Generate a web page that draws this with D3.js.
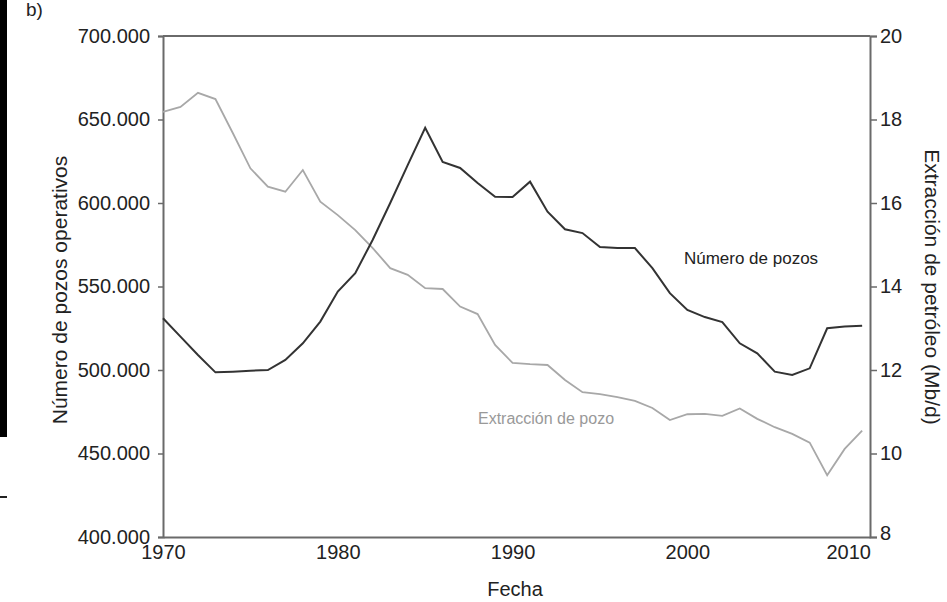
<!DOCTYPE html>
<html><head><meta charset="utf-8">
<script src="https://cdnjs.cloudflare.com/ajax/libs/d3/7.8.5/d3.min.js"></script>
<style>
html,body{margin:0;padding:0;background:#fff;}
svg{display:block;}
text{font-family:"Liberation Sans Narrow","Liberation Sans",Arial,sans-serif;}
</style></head>
<body>
<svg id="chart" width="947" height="602"></svg>
<script>
const years = d3.range(1970, 2011);
const pozos = [531000,520000,509000,498600,499000,499600,500000,506000,516000,529000,
  547000,558000,578000,600000,622700,645000,624600,621000,612000,603700,
  603600,612800,594800,584300,582000,573600,573000,573000,561000,546000,
  536000,531700,528700,516000,510000,499000,497000,501000,525000,526000,526500];
const extraccion = [18.18,18.30,18.64,18.49,17.67,16.83,16.39,16.27,16.79,16.03,
  15.71,15.35,14.92,14.44,14.28,13.96,13.94,13.52,13.34,12.60,
  12.17,12.14,12.12,11.76,11.47,11.42,11.35,11.26,11.09,10.80,
  10.94,10.95,10.90,11.08,10.83,10.63,10.47,10.26,9.48,10.11,10.55];
const leftTicks = [400000,450000,500000,550000,600000,650000,700000];
const rightTicks = [8,10,12,14,16,18,20];
const xTicks = [1970,1980,1990,2000,2010];

const svg = d3.select("#chart");
const L = 163, R = 870, T = 36, B = 537;
const x = d3.scaleLinear().domain([1970,2010.45]).range([L,R]);
const yL = d3.scaleLinear().domain([400000,700000]).range([B,T]);
const yR = d3.scaleLinear().domain([8,20]).range([B,T]);

// left black bar artifacts
svg.append("rect").attr("x",0).attr("y",0).attr("width",7).attr("height",437).attr("fill","#000");
svg.append("rect").attr("x",0).attr("y",496).attr("width",7).attr("height",2).attr("fill","#222");
svg.append("text").attr("x",26).attr("y",16).attr("font-size",19).attr("fill","#222").text("b)");

const fmt = d => d3.format(",")(d).replace(/,/g,".");
const axisColor = "#6a6a6a";

const gL = svg.append("g").attr("transform",`translate(${L},0)`)
  .call(d3.axisLeft(yL).tickValues(leftTicks).tickFormat(fmt).tickSize(5).tickPadding(8));
const gR = svg.append("g").attr("transform",`translate(${R},0)`)
  .call(d3.axisRight(yR).tickValues(rightTicks).tickSize(7).tickPadding(3));
const gX = svg.append("g").attr("transform",`translate(0,${B})`)
  .call(d3.axisBottom(x).tickValues(xTicks).tickFormat(d3.format("d")).tickSize(0).tickPadding(8));
[gL,gR,gX].forEach(g=>{
  g.select(".domain").attr("stroke",axisColor).attr("stroke-width",2);
  g.selectAll(".tick line").attr("stroke",axisColor).attr("stroke-width",1.5);
  g.selectAll(".tick text").attr("fill","#222").attr("font-size",20);
});
gX.selectAll(".tick text").filter(d=>d===2010).attr("dx",-14);
gR.selectAll(".tick text").filter(d=>d===8).attr("dy","0.1em");
// top frame
svg.append("line").attr("x1",L).attr("x2",R).attr("y1",T).attr("y2",T).attr("stroke",axisColor).attr("stroke-width",2);

// lines
svg.append("path").datum(years.map((yr,i)=>[yr,extraccion[i]]))
  .attr("fill","none").attr("stroke","#a8a8a8").attr("stroke-width",1.8)
  .attr("d", d3.line().x(d=>x(d[0])).y(d=>yR(d[1])));
svg.append("path").datum(years.map((yr,i)=>[yr,pozos[i]]))
  .attr("fill","none").attr("stroke","#333").attr("stroke-width",2)
  .attr("d", d3.line().x(d=>x(d[0])).y(d=>yL(d[1])));

// labels
svg.append("text").attr("x",751).attr("y",264).attr("text-anchor","middle").attr("font-size",17).attr("fill","#222").text("Número de pozos");
svg.append("text").attr("x",546).attr("y",424).attr("text-anchor","middle").attr("font-size",16).attr("fill","#999").text("Extracción de pozo");
svg.append("text").attr("transform","translate(67,290) rotate(-90)").attr("text-anchor","middle").attr("font-size",21).attr("fill","#222").text("Número de pozos operativos");
svg.append("text").attr("transform","translate(925,287) rotate(90)").attr("text-anchor","middle").attr("font-size",21).attr("fill","#222").text("Extracción de petróleo (Mb/d)");
svg.append("text").attr("x",515).attr("y",596).attr("text-anchor","middle").attr("font-size",20).attr("fill","#222").text("Fecha");
</script>
</body></html>
